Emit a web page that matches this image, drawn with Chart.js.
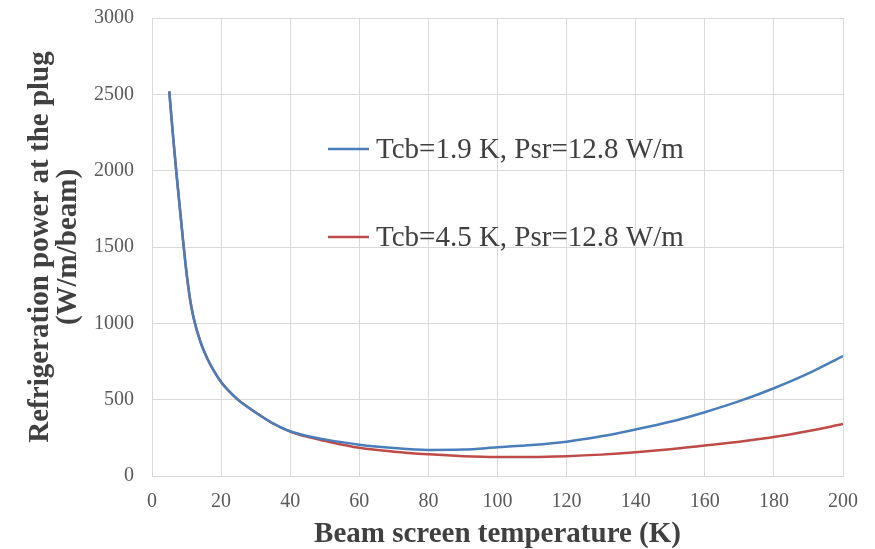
<!DOCTYPE html>
<html>
<head>
<meta charset="utf-8">
<script src="https://cdn.jsdelivr.net/npm/chart.js@4.4.1/dist/chart.umd.min.js"></script>
<style>
  html, body { margin: 0; padding: 0; background: #fff; }
  #wrap { width: 875px; height: 549px; }
</style>
</head>
<body>
<div id="wrap"><canvas id="coolingChart" width="875" height="549"></canvas></div>
<script>
// beam screen temperature (K)
const temps = [5, 6, 7, 8, 9, 10, 11, 12, 14, 16, 18, 20, 22, 25, 28, 30, 33, 35, 40, 45, 50, 60, 70, 80, 90,
               100, 110, 120, 130, 140, 150, 160, 170, 180, 190, 200];

// refrigeration power at the plug (W/m/beam)
const powerTcb19 = [2520, 2250, 2000, 1770, 1540, 1330, 1160, 1040, 880, 770, 685, 615, 562, 497, 447, 416, 372, 345, 293, 262, 240,
                    205, 183, 171, 173, 188, 203, 225, 260, 305, 355, 418, 490, 575, 672, 786];
const powerTcb45 = [2520, 2250, 2000, 1770, 1540, 1330, 1160, 1040, 880, 770, 685, 615, 562, 497, 447, 416, 372, 344, 291, 256, 230,
                    185, 159, 142, 130, 125, 125, 130, 140, 155, 175, 200, 225, 255, 295, 340];

const seriesNames = ["Tcb=1.9 K, Psr=12.8 W/m", "Tcb=4.5 K, Psr=12.8 W/m"];
const xTicks = [0, 20, 40, 60, 80, 100, 120, 140, 160, 180, 200];
const yTicks = [0, 500, 1000, 1500, 2000, 2500, 3000];

function toPoints(ys) {
  return temps.map(function (t, i) { return { x: t, y: ys[i] }; });
}

// legend drawn inside the plot, like the original
const innerLegend = {
  id: 'innerLegend',
  afterDatasetsDraw(chart) {
    const ctx = chart.ctx;
    const rows = [{ ds: 0, y: 149 }, { ds: 1, y: 237 }];
    ctx.save();
    rows.forEach(function (r) {
      const ds = chart.data.datasets[r.ds];
      ctx.strokeStyle = ds.borderColor;
      ctx.lineWidth = 2.5;
      ctx.beginPath();
      ctx.moveTo(328, r.y);
      ctx.lineTo(369, r.y);
      ctx.stroke();
      ctx.fillStyle = '#404040';
      ctx.font = '29px "Liberation Serif"';
      ctx.textBaseline = 'middle';
      ctx.fillText(ds.label, 376, r.y + 1);
    });
    ctx.restore();
  }
};

const gridColor = '#d9d9d9';
const tickColor = '#595959';
const titleColor = '#404040';

new Chart("coolingChart", {
  type: "line",
  data: {
    datasets: [{
      label: seriesNames[0],
      data: toPoints(powerTcb19),
      borderColor: "#4a7ebb",
      borderWidth: 2.5,
      pointRadius: 0,
      cubicInterpolationMode: 'monotone',
      fill: false
    }, {
      label: seriesNames[1],
      data: toPoints(powerTcb45),
      borderColor: "#be4b48",
      borderWidth: 2.5,
      pointRadius: 0,
      cubicInterpolationMode: 'monotone',
      fill: false
    }]
  },
  options: {
    responsive: false,
    animation: false,
    layout: { padding: { left: 0, right: 32, top: 18, bottom: 0 } },
    plugins: {
      legend: { display: false },
      tooltip: { enabled: false }
    },
    scales: {
      x: {
        type: 'linear',
        min: 0,
        max: 200,
        afterBuildTicks: function (scale) {
          scale.ticks = xTicks.map(function (v) { return { value: v }; });
        },
        afterFit: function (scale) { scale.height = 73; },
        grid: { color: gridColor, drawTicks: false },
        border: { color: gridColor },
        ticks: {
          color: tickColor,
          padding: 14,
          font: { family: 'Liberation Serif', size: 20 },
          maxRotation: 0,
          callback: function (v) { return String(v); }
        },
        title: {
          display: true,
          text: 'Beam screen temperature (K)',
          color: titleColor,
          font: { family: 'Liberation Serif', size: 29, weight: 'bold', lineHeight: 1.0 },
          padding: { top: 0, bottom: 0 }
        }
      },
      y: {
        min: 0,
        max: 3000,
        afterBuildTicks: function (scale) {
          scale.ticks = yTicks.map(function (v) { return { value: v }; });
        },
        afterFit: function (scale) {
          scale.width = 152;
          scale.paddingTop = 0;
          scale.paddingBottom = 0;
        },
        grid: { color: gridColor, drawTicks: false },
        border: { color: gridColor },
        ticks: {
          color: tickColor,
          padding: 18,
          font: { family: 'Liberation Serif', size: 20 },
          callback: function (v) { return String(v); }
        },
        title: {
          display: true,
          text: ['Refrigeration power at the plug', '(W/m/beam)'],
          color: titleColor,
          font: { family: 'Liberation Serif', size: 29, weight: 'bold', lineHeight: 0.97 },
          padding: { top: 26, bottom: 0 }
        }
      }
    }
  },
  plugins: [innerLegend]
});
</script>
</body>
</html>
